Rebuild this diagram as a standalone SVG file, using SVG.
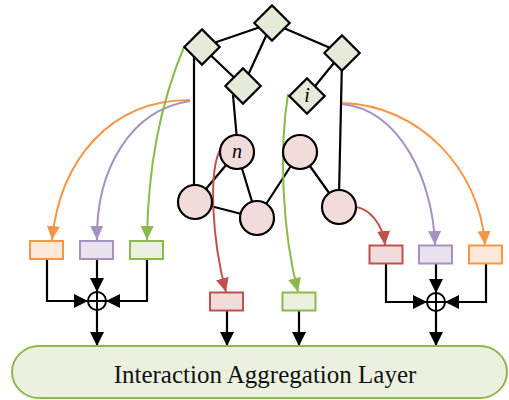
<svg xmlns="http://www.w3.org/2000/svg" width="509" height="400" viewBox="0 0 509 400">
<style>
.e{stroke:#000;stroke-width:2.2;fill:none}
.d{fill:#e6ebd9;stroke:#000;stroke-width:2.2}
.c{fill:#f2dcdb;stroke:#000;stroke-width:2.2}
.lbl{font-family:"Liberation Serif",serif;font-style:italic;font-size:20px;text-anchor:middle}
.bo{fill:#fde9d9;stroke:#f79646;stroke-width:2}
.bp{fill:#e8e3ef;stroke:#a592c3;stroke-width:2}
.bg{fill:#ebf1de;stroke:#8db84a;stroke-width:2}
.br{fill:#f2dcdb;stroke:#c0504d;stroke-width:2}
.co{stroke:#f79646;stroke-width:2;fill:none}
.cp{stroke:#a592c3;stroke-width:2;fill:none}
.cg{stroke:#8db84a;stroke-width:2;fill:none}
.cr{stroke:#c0504d;stroke-width:2;fill:none}
.k{stroke:#000;stroke-width:2.2;fill:none}
</style>
<defs>
<marker id="ak" markerUnits="userSpaceOnUse" markerWidth="14" markerHeight="14" viewBox="0 0 14 14" refX="14" refY="7" orient="auto"><path d="M0,0 L14,7 L0,14 z" fill="#000"/></marker>
<marker id="ao" markerUnits="userSpaceOnUse" markerWidth="14" markerHeight="13" viewBox="0 0 14 13" refX="14" refY="6.5" orient="auto"><path d="M0,0 L14,6.5 L0,13 z" fill="#f79646"/></marker>
<marker id="ap" markerUnits="userSpaceOnUse" markerWidth="14" markerHeight="13" viewBox="0 0 14 13" refX="14" refY="6.5" orient="auto"><path d="M0,0 L14,6.5 L0,13 z" fill="#a592c3"/></marker>
<marker id="ag" markerUnits="userSpaceOnUse" markerWidth="14" markerHeight="13" viewBox="0 0 14 13" refX="14" refY="6.5" orient="auto"><path d="M0,0 L14,6.5 L0,13 z" fill="#8db84a"/></marker>
<marker id="ar" markerUnits="userSpaceOnUse" markerWidth="14" markerHeight="13" viewBox="0 0 14 13" refX="14" refY="6.5" orient="auto"><path d="M0,0 L14,6.5 L0,13 z" fill="#c0504d"/></marker>
</defs>

<g id="connectors">
<line class="e" x1="272" y1="23" x2="202" y2="47"/>
<line class="e" x1="272" y1="23" x2="243" y2="86"/>
<line class="e" x1="272" y1="23" x2="342" y2="53"/>
<line class="e" x1="202" y1="47" x2="243" y2="86"/>
<line class="e" x1="342" y1="53" x2="307" y2="96"/>
<line class="e" x1="194" y1="50" x2="194" y2="190"/>
<line class="e" x1="233" y1="95" x2="237" y2="140"/>
<line class="e" x1="342" y1="60" x2="339" y2="195"/>
<line class="e" x1="195" y1="202" x2="237" y2="152"/>
<line class="e" x1="195" y1="202" x2="257" y2="218"/>
<line class="e" x1="237" y1="152" x2="257" y2="218"/>
<line class="e" x1="257" y1="218" x2="300" y2="152"/>
<line class="e" x1="300" y1="152" x2="339" y2="207"/>
<path class="co" d="M190,100 C110,100 60,160 52,240" marker-end="url(#ao)"/>
<path class="cp" d="M190,101 C130,110 96,170 97,240" marker-end="url(#ap)"/>
<path class="cg" d="M184,47 C168,85 148,150 147,240" marker-end="url(#ag)"/>
<path class="cp" d="M342,104 C400,110 433,180 435,245" marker-end="url(#ap)"/>
<path class="co" d="M342,103 C420,105 480,170 485,245" marker-end="url(#ao)"/>
<path class="cr" d="M356,207 C370,209 383,225 385,245" marker-end="url(#ar)"/>
<path class="cr" d="M221,148 C208,170 212,240 226,292" marker-end="url(#ar)"/>
<path class="cg" d="M288,94 C279,150 282,230 298,292" marker-end="url(#ag)"/>
<polyline class="k" points="47,259 47,301 88,301" marker-end="url(#ak)"/>
<line class="k" x1="97" y1="259" x2="97" y2="292" marker-end="url(#ak)"/>
<polyline class="k" points="147,259 147,301 106,301" marker-end="url(#ak)"/>
<line class="k" x1="97" y1="310" x2="97" y2="346" marker-end="url(#ak)"/>
<polyline class="k" points="386,264 386,302 427,302" marker-end="url(#ak)"/>
<line class="k" x1="436" y1="264" x2="436" y2="293" marker-end="url(#ak)"/>
<polyline class="k" points="486,264 486,302 445,302" marker-end="url(#ak)"/>
<line class="k" x1="436" y1="311" x2="436" y2="346" marker-end="url(#ak)"/>
<line class="k" x1="227" y1="311" x2="227" y2="346" marker-end="url(#ak)"/>
<line class="k" x1="299" y1="311" x2="299" y2="346" marker-end="url(#ak)"/>
</g>

<g id="d-top"><rect class="d" x="259.5" y="10.5" width="25" height="25" transform="rotate(45 272 23)"/></g>
<g id="d-left"><rect class="d" x="189.5" y="34.5" width="25" height="25" transform="rotate(45 202 47)"/></g>
<g id="d-mid"><rect class="d" x="230.5" y="73.5" width="25" height="25" transform="rotate(45 243 86)"/></g>
<g id="d-right"><rect class="d" x="329.5" y="40.5" width="25" height="25" transform="rotate(45 342 53)"/></g>
<g id="d-i"><rect class="d" x="294.5" y="83.5" width="25" height="25" transform="rotate(45 307 96)"/><text class="lbl" x="307" y="102">i</text></g>

<g id="c-n"><circle class="c" cx="237" cy="152" r="17"/><text class="lbl" x="237" y="158">n</text></g>
<g id="c-tr"><circle class="c" cx="300" cy="152" r="17"/></g>
<g id="c-l"><circle class="c" cx="195" cy="202" r="17"/></g>
<g id="c-bm"><circle class="c" cx="257" cy="218" r="17"/></g>
<g id="c-r"><circle class="c" cx="339" cy="207" r="17"/></g>

<g id="box-lo"><rect class="bo" x="30" y="241" width="33" height="18"/></g>
<g id="box-lp"><rect class="bp" x="80" y="241" width="33" height="18"/></g>
<g id="box-lg"><rect class="bg" x="130" y="241" width="33" height="18"/></g>
<g id="box-rr"><rect class="br" x="369.5" y="245.5" width="33" height="18"/></g>
<g id="box-rp"><rect class="bp" x="419" y="245.5" width="33" height="18"/></g>
<g id="box-ro"><rect class="bo" x="469" y="245.5" width="33" height="18"/></g>
<g id="box-mr"><rect class="br" x="210" y="292.5" width="33" height="18"/></g>
<g id="box-mg"><rect class="bg" x="282.5" y="292.5" width="33" height="18"/></g>

<g id="oplus-l"><circle cx="97" cy="301" r="9" fill="#fff" stroke="#000" stroke-width="2"/><path d="M88,301 H106 M97,292 V310" stroke="#000" stroke-width="2"/></g>
<g id="oplus-r"><circle cx="436" cy="302" r="9" fill="#fff" stroke="#000" stroke-width="2"/><path d="M427,302 H445 M436,293 V311" stroke="#000" stroke-width="2"/></g>

<g id="agg"><rect x="12" y="346" width="495" height="52" rx="27" ry="27" fill="#ebf1de" stroke="#8db84a" stroke-width="2"/><text x="265" y="383" font-family="Liberation Serif, serif" font-size="25" text-anchor="middle" fill="#111">Interaction Aggregation Layer</text></g>
</svg>
